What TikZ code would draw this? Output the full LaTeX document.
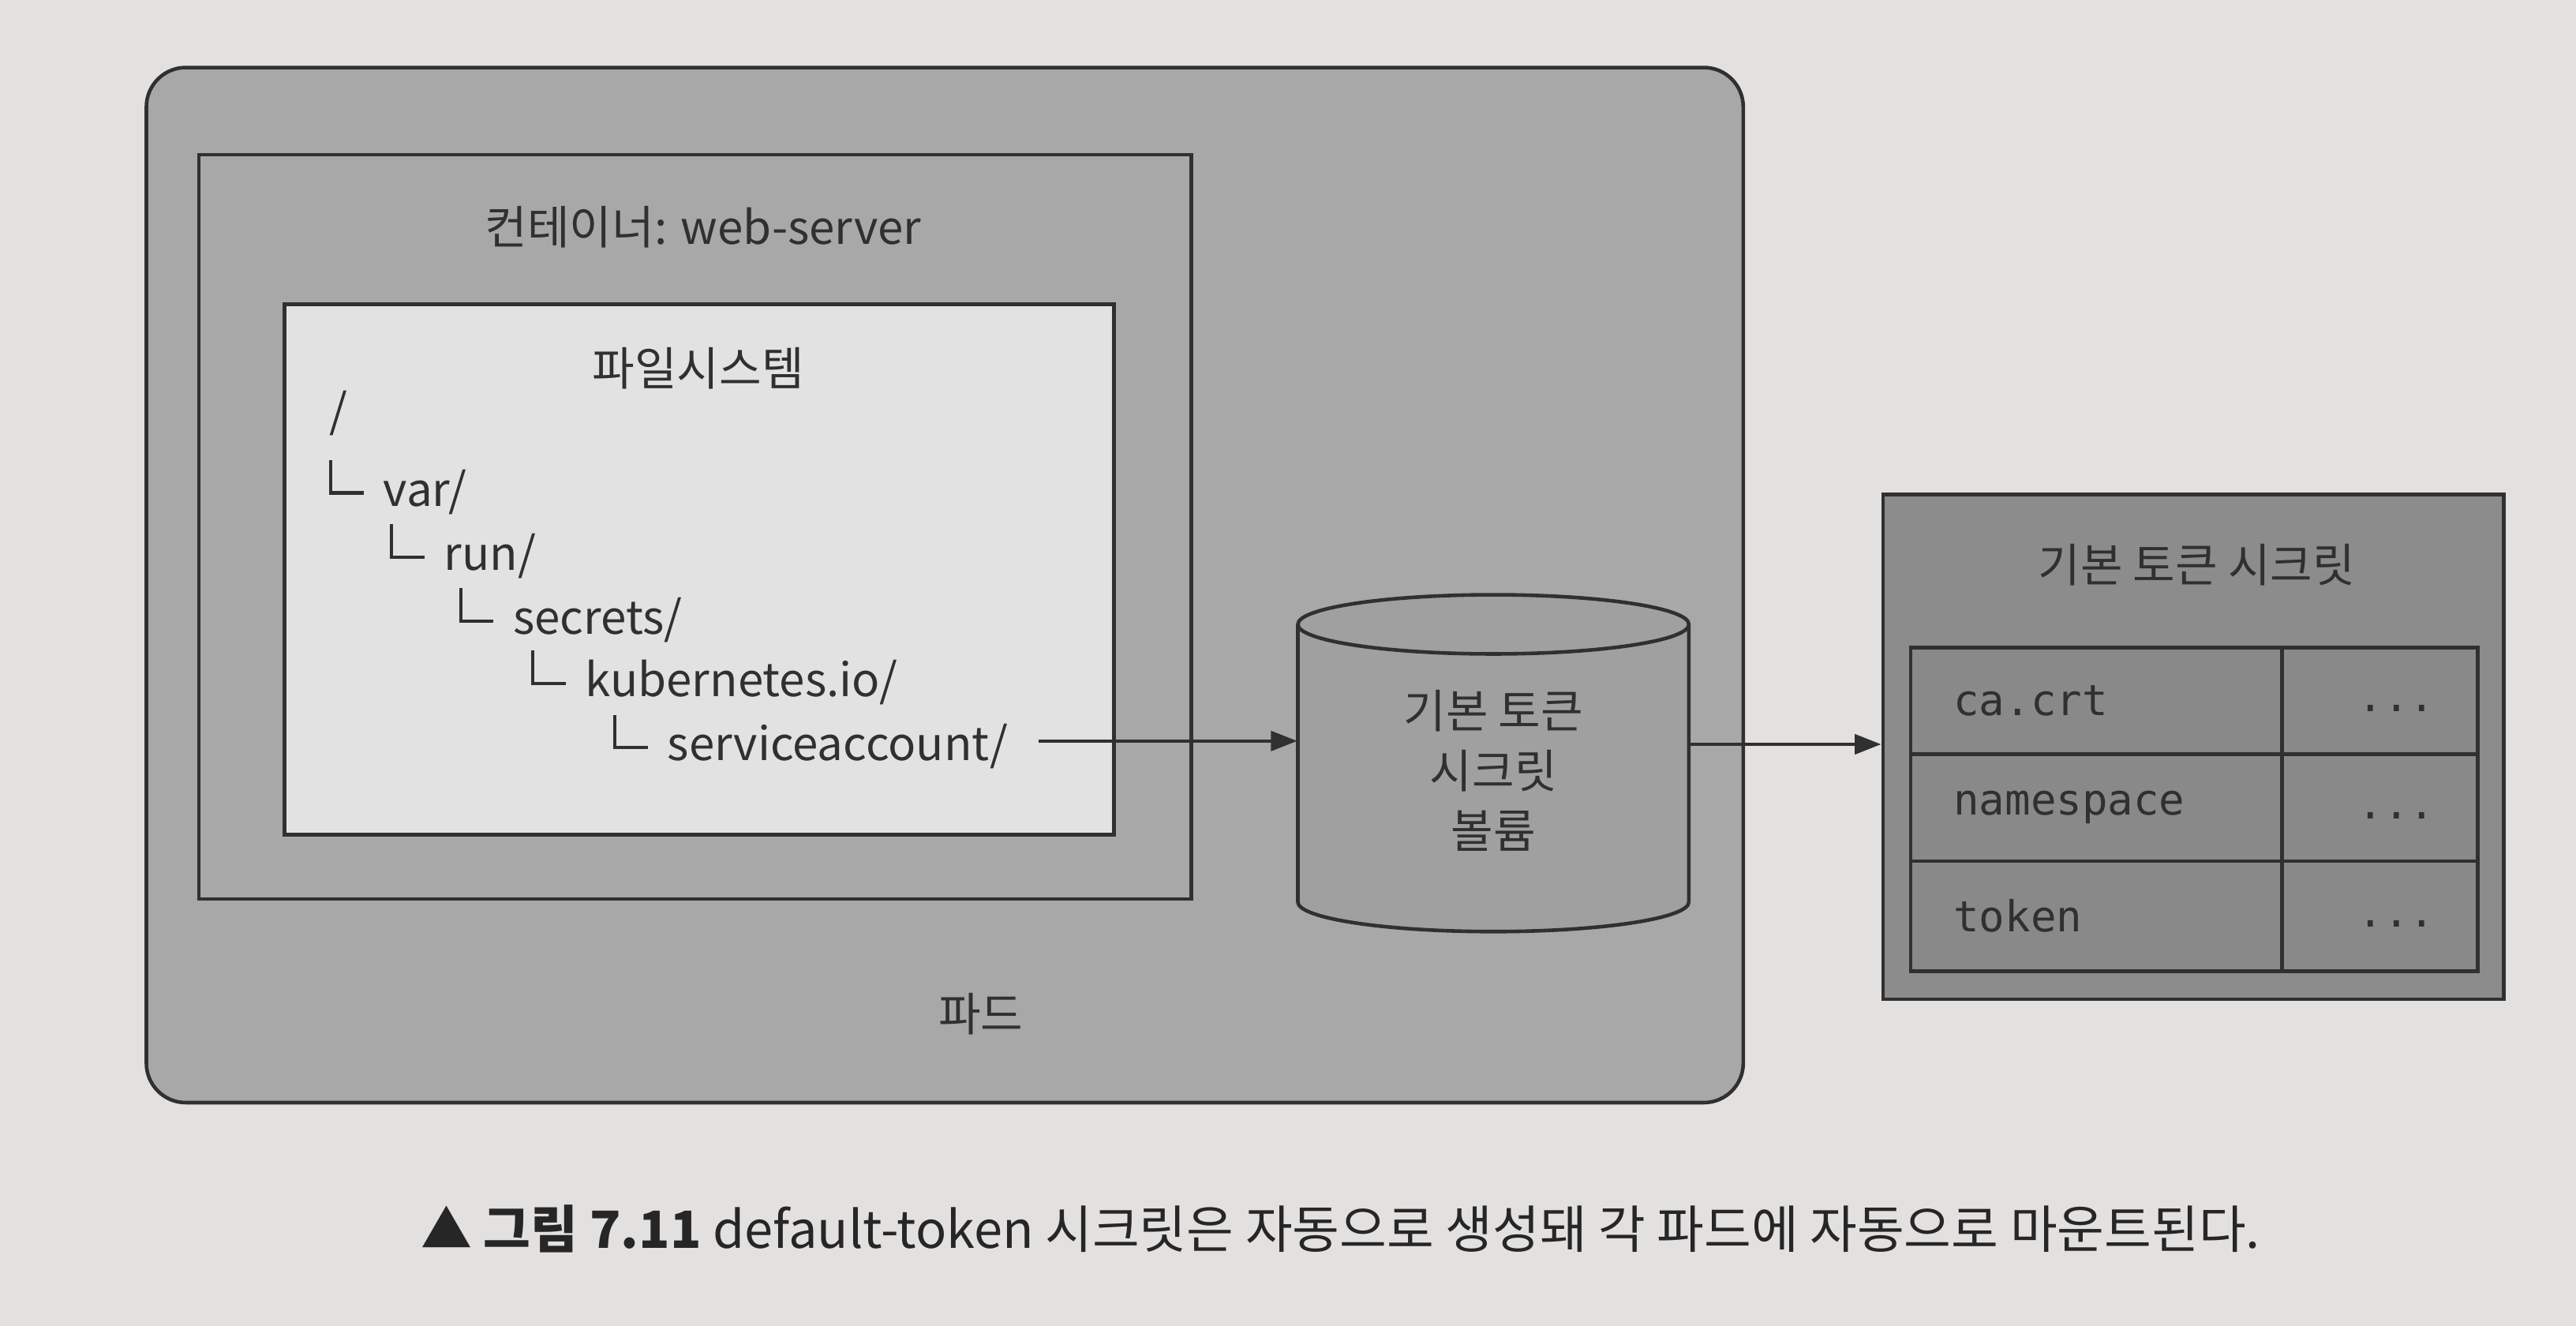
\documentclass[tikz,border=0pt]{standalone}
\usepackage{fontspec}
\setmainfont{Noto Sans CJK KR}
\newfontfamily\monofont{DejaVu Sans Mono}
\usetikzlibrary{arrows.meta}
\definecolor{page}{HTML}{E3E1DF}
\definecolor{podgray}{HTML}{A8A8A8}
\definecolor{fsfill}{HTML}{E2E2E2}
\definecolor{secfill}{HTML}{8C8C8C}
\definecolor{cellfill}{HTML}{898989}
\definecolor{cylfill}{HTML}{A0A0A0}
\definecolor{ink}{HTML}{303030}
\newcommand\treeelbow{\raisebox{3.5pt}{\rule{1pt}{10.5pt}\rule{9.5pt}{1pt}}\hspace{6pt}}
\begin{document}
\begin{tikzpicture}[x=0.5pt,y=-0.5pt,
  box/.style={draw=ink, line width=1.1pt, anchor=north west, inner sep=0pt},
  lbl/.style={text=ink, font=\fontsize{14}{17}\selectfont, inner sep=0pt},
  tree/.style={text=ink, font=\fontsize{14}{17}\selectfont, inner sep=0pt, anchor=base west},
  keycell/.style={draw=ink, line width=1.1pt, fill=cellfill, anchor=north west, minimum height=32.5pt,
     inner xsep=13pt, inner ysep=0pt, text width=87pt, align=left, text=ink, font=\monofont\fontsize{13}{15}\selectfont},
  valcell/.style={draw=ink, line width=1.1pt, fill=cellfill, anchor=north west, minimum height=32.5pt,
     minimum width=59.5pt, inner sep=0pt, text=ink, font=\monofont\fontsize{13}{15}\selectfont},
  arr/.style={draw=ink, line width=1pt, -{Triangle[length=8pt,width=6pt]}}]
\path[fill=page] (0,0) rectangle (1568,807);
\useasboundingbox (0,0) rectangle (1568,807);

% pod
\node[box, fill=podgray, rounded corners=12pt, minimum width=486pt, minimum height=315pt] (pod) at (88,40) {};
\node[lbl] (podlbl) at (597,617) {파드};

% container
\node[box, fill=podgray, minimum width=302pt, minimum height=226.5pt] (ctr) at (120,93) {};
\node[lbl] (ctrlbl) at (428,138) {컨테이너: web-server};

% filesystem
\node[box, fill=fsfill, minimum width=252.5pt, minimum height=161.5pt] (fs) at (172,184) {};
\node[lbl] (fslbl) at (425,224) {파일시스템};

\node[tree] (root) at (200,260) {/};
\node[tree] (t1) at (200,308) {\treeelbow var/};
\node[tree] (t2) at (237,347) {\treeelbow run/};
\node[tree] (t3) at (279,386) {\treeelbow secrets/};
\node[tree] (t4) at (323,424) {\treeelbow kubernetes.io/};
\node[tree] (sa) at (373,463) {\treeelbow serviceaccount/};
\coordinate (sastart) at (632,451);

% cylinder
\path[fill=cylfill, draw=ink, line width=1.1pt] (790,380) -- (790,549)
   arc[start angle=180, end angle=0, x radius=119, y radius=18] -- (1028,380);
\path[fill=cylfill, draw=ink, line width=1.1pt] (909,380) ellipse [x radius=119, y radius=18];
\node[text=ink, font=\fontsize{14}{18.25}\selectfont, align=center, inner sep=0pt,
      minimum width=119pt, minimum height=102pt] (cyl) at (909,469) {기본 토큰\\시크릿\\볼륨};

% secret
\node[box, fill=secfill, minimum width=189pt, minimum height=153.5pt] (sec) at (1145,300) {};
\node[lbl] (seclbl) at (1337,344) {기본 토큰 시크릿};

\node[keycell] (k1) at (1162,393) {ca.crt};
\node[keycell] (k2) at (1162,458) {namespace};
\node[keycell, minimum height=33.5pt] (k3) at (1162,523) {token};
\node[valcell] (v1) at (1388,393) {\hspace{10pt}\vphantom{Ag}...};
\node[valcell] (v2) at (1388,458) {\hspace{10pt}\vphantom{Ag}...};
\node[valcell, minimum height=33.5pt] (v3) at (1388,523) {\hspace{10pt}\vphantom{Ag}...};

% arrows
\draw[arr] (sastart) -- (sastart -| cyl.west);
\coordinate (cylout) at (1028,453);
\draw[arr] (cylout) -- (cylout -| sec.west);

% caption
\node[text=black!85, font=\fontsize{15.6}{18}\selectfont, inner sep=0pt] (cap) at (816,748)
  {▲ {\bfseries 그림 7.11} default-token 시크릿은 자동으로 생성돼 각 파드에 자동으로 마운트된다.};
\end{tikzpicture}
\end{document}
